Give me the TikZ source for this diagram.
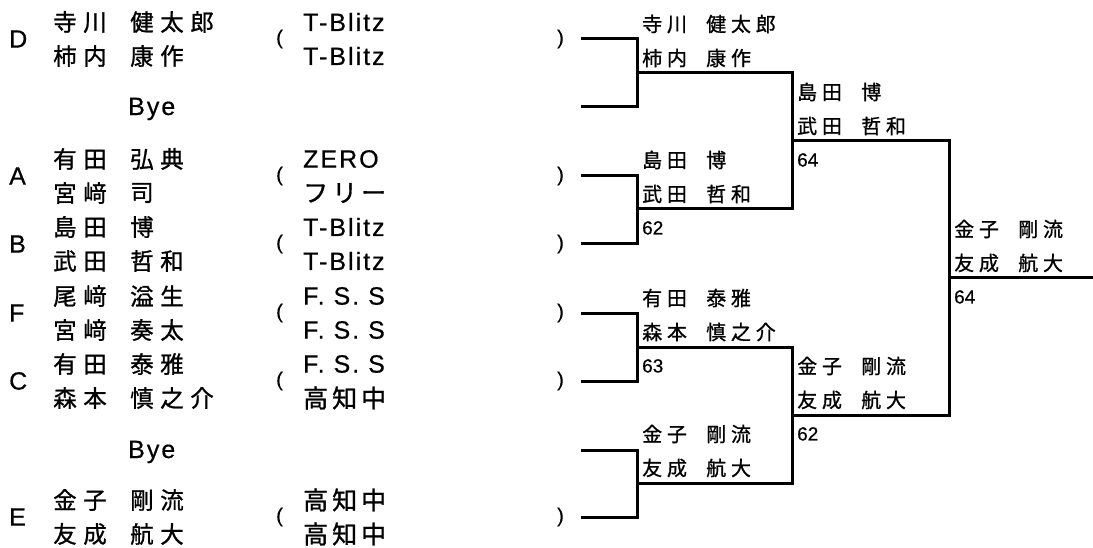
\documentclass[tikz,border=0pt]{standalone}
\usepackage{fontspec}
\setmainfont[FakeBold=0.5]{Liberation Sans}
\newfontfamily\jpname[LetterSpace=28,FakeBold=1]{Noto Sans CJK JP}
\newfontfamily\jpwin[LetterSpace=24,FakeBold=1]{Noto Sans CJK JP}
\newfontfamily\jpclub[LetterSpace=16,FakeBold=1]{Noto Sans CJK JP}
\newfontfamily\latclub[LetterSpace=8,FakeBold=0.5]{Liberation Sans}
\usetikzlibrary{positioning}
\usetikzlibrary{calc}
\newcommand\jc[1]{{\jpclub #1}}

\begin{document}
\begin{tikzpicture}[x=1pt, y=-1pt,
			every node/.style = {inner sep=0pt, anchor=west},
			seed/.style = {font=\fontsize{25}{25}\selectfont},
			player/.style = {font=\jpname\fontsize{23.5}{23.5}\selectfont},
			club/.style = {font=\latclub\fontsize{25}{25}\selectfont},
			paren/.style = {font=\fontsize{20}{20}\selectfont},
			winner/.style = {font=\jpwin\fontsize{20}{20}\selectfont},
			score/.style = {font=\fontsize{19}{19}\selectfont},
			bracket/.style = {line width=3pt}]
			\useasboundingbox (0,0) rectangle (1093,548);
			% entries
			\foreach \y/\sd/\fa/\ga/\fb/\gb/\ca/\cb in {
				39/D/寺川/健太郎/柿内/康作/T-Blitz/T-Blitz,
				176/A/有田/弘典/宮﨑/司/ZERO/\jc{フリー},
				244/B/島田/博/武田/哲和/T-Blitz/T-Blitz,
				313/F/尾﨑/溢生/宮﨑/奏太/F. S. S/F. S. S,
				381/C/有田/泰雅/森本/慎之介/F. S. S/\jc{高知中},
				517/E/金子/剛流/友成/航大/\jc{高知中}/\jc{高知中}}
			{
				\node[seed] (seed\sd) at (9,\y) {\sd};
				\node[player] (fa\sd) at (53,\y-17) {\fa};
				\node[player] (ga\sd) at (130,\y-17) {\ga};
				\node[player] (fb\sd) at (53,\y+17) {\fb};
				\node[player] (gb\sd) at (130,\y+17) {\gb};
				\node[paren] (open\sd) at (276,\y) {(};
				\node[club] (ca\sd) at (303,\y-17) {\ca};
				\node[club] (cb\sd) at (303,\y+17) {\cb};
				\node[paren] (close\sd) at (557,\y) {)};
				\coordinate (r\sd) at (581,\y);
			}
			\node[club] (bye1) at (128,109) {Bye};
			\node[club] (bye2) at (128,452) {Bye};
			\coordinate (rb1) at (581,107);
			\coordinate (rb2) at (581,450);
			% bracket
			\coordinate (q1) at (637,73);
			\coordinate (q2) at (637,209);
			\coordinate (q3) at (637,347);
			\coordinate (q4) at (637,483);
			\coordinate (s1) at (792,141);
			\coordinate (s2) at (792,415);
			\coordinate (t) at (949,278);
			\coordinate (champ) at (1093,278);
			\draw[bracket] (rD) -| (q1) |- (rb1);
			\draw[bracket] (rA) -| (q2) |- (rB);
			\draw[bracket] (rF) -| (q3) |- (rC);
			\draw[bracket] (rb2) -| (q4) |- (rE);
			\draw[bracket] (q1) -| (s1) |- (q2);
			\draw[bracket] (q3) -| (s2) |- (q4);
			\draw[bracket] (s1) -| (t) |- (s2);
			\draw[bracket] (t) -- (champ);
			% winners
			\foreach \j/\fa/\ga/\fb/\gb in {
				q1/寺川/健太郎/柿内/康作,
				q2/島田/博/武田/哲和,
				q3/有田/泰雅/森本/慎之介,
				q4/金子/剛流/友成/航大,
				s1/島田/博/武田/哲和,
				s2/金子/剛流/友成/航大,
				t/金子/剛流/友成/航大}
			{
				\node[winner] (\j-fa) at ($(\j)+(5,-49)$) {\fa};
				\node[winner] (\j-ga) at ($(\j)+(69,-49)$) {\ga};
				\node[winner] (\j-fb) at ($(\j)+(5,-15)$) {\fb};
				\node[winner] (\j-gb) at ($(\j)+(69,-15)$) {\gb};
			}
			\node[score, below right=12pt and 5pt of q2] (sc-q2) {62};
			\node[score, below right=12pt and 5pt of q3] (sc-q3) {63};
			\node[score, below right=12pt and 5pt of s1] (sc-s1) {64};
			\node[score, below right=12pt and 5pt of s2] (sc-s2) {62};
			\node[score, below right=12pt and 5pt of t] (sc-t) {64};
		\end{tikzpicture}
\end{document}
